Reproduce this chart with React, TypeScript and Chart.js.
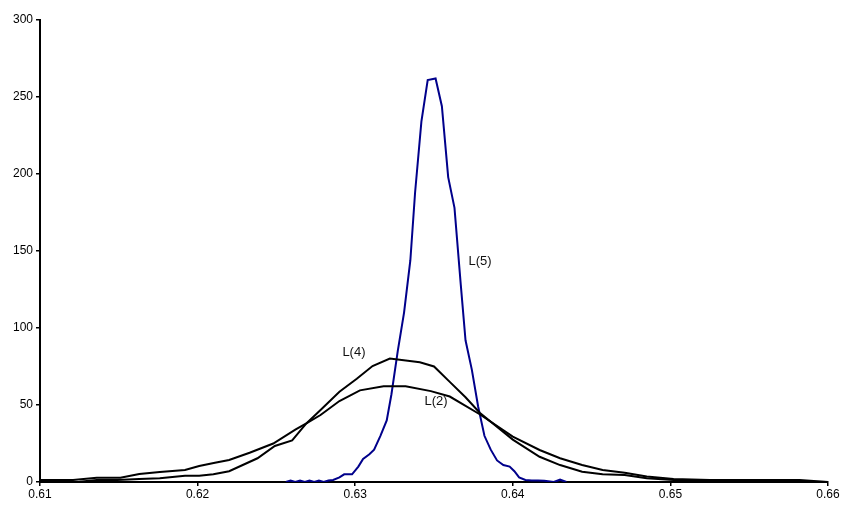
import React, { useEffect, useRef } from "react";
import { Chart, registerables } from "chart.js";

Chart.register(...registerables);

// L(2): broad curve
const l2X = [0.61, 0.6121, 0.6136, 0.6151, 0.6163, 0.6176, 0.6192, 0.6201, 0.6211, 0.6220, 0.6233, 0.6248, 0.6262, 0.6269, 0.6278, 0.6290, 0.6303, 0.6318, 0.6332, 0.6348, 0.6360, 0.6379, 0.6400, 0.6417, 0.6430, 0.6444, 0.6457, 0.6471, 0.6485, 0.6502, 0.6525, 0.6582, 0.66];
const l2Y = [1.3, 1.3, 2.8, 2.8, 5.2, 6.5, 7.8, 10.4, 12.5, 14.3, 19, 25, 34, 38, 43.5, 52.6, 59.5, 62.2, 62.2, 59, 55.5, 44, 29.5, 20.8, 15.4, 11, 7.8, 6, 3.5, 2, 1.3, 1.3, 0];

// L(4): medium curve
const l4X = [0.61, 0.6125, 0.6136, 0.6149, 0.6163, 0.6176, 0.6192, 0.6201, 0.6210, 0.6220, 0.6238, 0.6249, 0.6260, 0.6269, 0.6278, 0.6290, 0.6301, 0.6311, 0.6322, 0.6341, 0.6350, 0.6360, 0.6370, 0.6379, 0.6400, 0.6417, 0.6430, 0.6444, 0.6457, 0.6471, 0.6485, 0.6502, 0.6525, 0.66];
const l4Y = [0, 0.2, 1.3, 1.3, 2, 2.4, 4, 4, 5, 7, 15.4, 23.4, 27, 38, 46.8, 58.6, 67, 75.3, 80.2, 77.7, 75, 65, 55, 45, 27.5, 16.4, 11, 6.7, 5, 4.5, 2.4, 1.3, 0.8, 0];

// L(5): sharp peak
const l5X = [0.6256, 0.6259, 0.6262, 0.6265, 0.6268, 0.6271, 0.6274, 0.6277, 0.6280, 0.6283, 0.6286, 0.6290, 0.6293, 0.6298, 0.6302, 0.6305, 0.6309, 0.6312, 0.6316, 0.6320, 0.6323, 0.6327, 0.6331, 0.6335, 0.6338, 0.6342, 0.6346, 0.6351, 0.6355, 0.6359, 0.6363, 0.6367, 0.6370, 0.6374, 0.6378, 0.6382, 0.6386, 0.6390, 0.6394, 0.6398, 0.6401, 0.6404, 0.6408, 0.6412, 0.6416, 0.6420, 0.6426, 0.6430, 0.6434];
const l5Y = [0, 1, 0, 1, 0, 1, 0, 1, 0, 1, 1.3, 3, 5, 5, 10, 15, 18, 21, 30, 40, 57, 85, 110, 144, 188, 234, 261, 262, 244, 198, 178, 128, 92, 73, 49, 30, 21, 14, 11, 10, 7, 3, 1.3, 1, 1, 0.8, 0, 1.5, 0];

// Curve labels (data coordinates)
const labelTexts = ["L(5)", "L(4)", "L(2)"];
const labelX = [0.63792, 0.62992, 0.63513];
const labelY = [143.5, 84.4, 52];

const xTicks = [0.61, 0.62, 0.63, 0.64, 0.65, 0.66];
const yTicks = [0, 50, 100, 150, 200, 250, 300];

const FONT = "'Liberation Sans', Arial, sans-serif";

const toPoints = (xs: number[], ys: number[]) => xs.map((x, i) => ({ x, y: ys[i] }));

export default function App() {
  const ref = useRef<HTMLCanvasElement | null>(null);
  useEffect(() => {
    if (!ref.current) return;
    const labelPlugin = {
      id: "curveLabels",
      afterDatasetsDraw(chart: any) {
        const ctx = chart.ctx;
        const xs = chart.scales.x;
        const ys = chart.scales.y;
        ctx.save();
        ctx.font = `13px ${FONT}`;
        ctx.fillStyle = "#111";
        ctx.textAlign = "center";
        ctx.textBaseline = "middle";
        labelTexts.forEach((t, i) => {
          ctx.fillText(t, xs.getPixelForValue(labelX[i]), ys.getPixelForValue(labelY[i]));
        });
        ctx.restore();
      },
    };
    const chart = new Chart(ref.current, {
      type: "scatter",
      data: {
        datasets: [
          { label: "L(2)", data: toPoints(l2X, l2Y), showLine: true, borderColor: "#000", borderWidth: 2, pointRadius: 0, tension: 0 },
          { label: "L(4)", data: toPoints(l4X, l4Y), showLine: true, borderColor: "#000", borderWidth: 2, pointRadius: 0, tension: 0 },
          { label: "L(5)", data: toPoints(l5X, l5Y), showLine: true, borderColor: "#00008B", borderWidth: 2, pointRadius: 0, tension: 0 },
        ],
      },
      options: {
        animation: false,
        responsive: false,
        layout: { padding: { left: 0, right: 19, top: 20, bottom: 0 } },
        plugins: { legend: { display: false }, tooltip: { enabled: false } },
        scales: {
          x: {
            type: "linear",
            min: 0.61,
            max: 0.66,
            afterFit: (s: any) => { s.height = 30; },
            afterBuildTicks: (s: any) => { s.ticks = xTicks.map((v) => ({ value: v })); },
            grid: { drawOnChartArea: false, drawTicks: true, tickLength: 4, color: "#000", lineWidth: 1.5 },
            border: { display: true, color: "#000", width: 2 },
            ticks: { color: "#000", font: { family: FONT, size: 12 }, padding: 1, maxRotation: 0, callback: (v: any) => Number(v).toFixed(2) },
          },
          y: {
            type: "linear",
            min: 0,
            max: 300,
            afterFit: (s: any) => { s.width = 40; },
            afterBuildTicks: (s: any) => { s.ticks = yTicks.map((v) => ({ value: v })); },
            grid: { drawOnChartArea: false, drawTicks: true, tickLength: 4, color: "#000", lineWidth: 1.5 },
            border: { display: true, color: "#000", width: 2 },
            ticks: { color: "#000", font: { family: FONT, size: 12 }, padding: 3, callback: (v: any) => String(v) },
          },
        },
      },
      plugins: [labelPlugin],
    });
    return () => chart.destroy();
  }, []);
  return (
    <div style={{ position: "fixed", left: 0, top: 0, width: 847, height: 512, background: "#fff" }}>
      <canvas ref={ref} width={847} height={512} style={{ width: 847, height: 512 }} />
    </div>
  );
}
